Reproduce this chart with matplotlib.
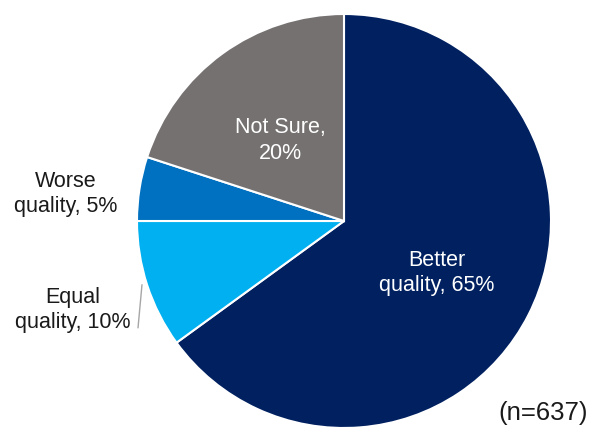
import matplotlib
matplotlib.use('Agg')
import matplotlib.pyplot as plt

labels = ['Better\nquality, 65%', 'Equal\nquality, 10%', 'Worse\nquality, 5%', 'Not Sure,\n20%']
shares = [65, 10, 5, 20]
colors = ['#002060', '#00B0F0', '#0070C0', '#767171']
sample_note = '(n=637)'

plt.rcParams['font.family'] = ['Liberation Sans', 'DejaVu Sans']

fig = plt.figure(figsize=(5.94, 4.30), dpi=100)
ax = fig.add_axes([137 / 594, 2 / 430, 414 / 594, 414 / 430])
wedges, _ = ax.pie(shares, colors=colors, startangle=90, counterclock=False,
                   radius=1.0, wedgeprops=dict(edgecolor='white', linewidth=1.5))
ax.set_xlim(-1, 1)
ax.set_ylim(-1, 1)
ax.axis('off')

# label positions in pie coordinates
label_pos = [(0.447, -0.251), (-1.309, -0.430), (-1.343, 0.130), (-0.309, 0.390)]
label_color = ['white', '#1a1a1a', '#1a1a1a', 'white']
for txt, (x, y), c in zip(labels, label_pos, label_color):
    ax.text(x, y, txt, ha='center', va='center', fontsize=15.5, color=c,
            linespacing=1.3, clip_on=False)

# leader line for the small equal-quality slice
ax.plot([-0.976, -0.995], [-0.309, -0.515], color='#A6A6A6', lw=1, clip_on=False)

fig.text(543 / 594, 1 - 413 / 430, sample_note, ha='center', va='center',
         fontsize=18.5, color='#1a1a1a')

fig.savefig('out.png', dpi=100)
